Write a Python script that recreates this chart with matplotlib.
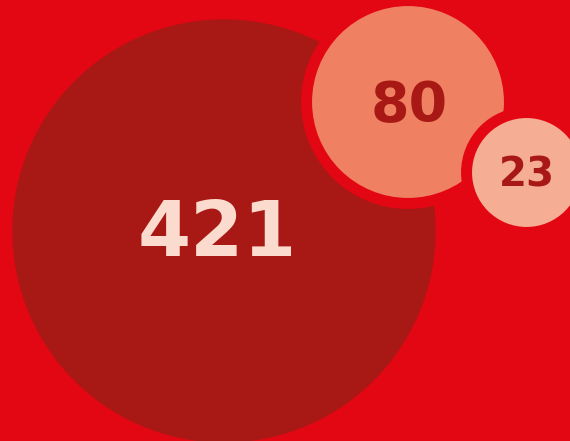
import matplotlib
matplotlib.use("Agg")
import matplotlib.pyplot as plt
from matplotlib.patches import Circle
import numpy as np

# values shown in the bubbles
values = [421, 80, 23]
fills = ["#A81915", "#F08062", "#F5AE93"]
label_colors = ["#FADBCD", "#A81915", "#A81915"]
font_sizes = [55, 40, 29]

# layout (pixels, y down) of each bubble centre
centers_x = [224, 408, 526.5]
centers_y = [231, 102, 172.5]
label_dx = [-7, 1, 0]
label_dy = [-3, -1, -1]

bg = "#E30613"
ring = 11  # gap ring around overlaid bubbles

W, H = 570, 441
fig = plt.figure(figsize=(W / 100, H / 100), dpi=100)
fig.patch.set_facecolor(bg)
ax = fig.add_axes([0, 0, 1, 1])
ax.set_facecolor(bg)
ax.set_xlim(0, W)
ax.set_ylim(H, 0)
ax.set_aspect("equal")
ax.axis("off")

# radius grows with sqrt of the value
radii = 10.0 * np.sqrt(values) + 6.5

for i, v in enumerate(values):
    cx, cy, r = centers_x[i], centers_y[i], radii[i]
    if i > 0:
        ax.add_patch(Circle((cx, cy), r + ring, facecolor=bg, edgecolor="none"))
    ax.add_patch(Circle((cx, cy), r, facecolor=fills[i], edgecolor="none"))
    # baseline sits half a cap height below the centre
    cap_px = font_sizes[i] * 100 / 72 * 0.729
    ax.text(cx + label_dx[i], cy + cap_px / 2 + label_dy[i], str(v),
            ha="center", va="baseline",
            fontsize=font_sizes[i], fontweight="bold", color=label_colors[i],
            family="DejaVu Sans")

fig.savefig("out.png", dpi=100, facecolor=bg)
